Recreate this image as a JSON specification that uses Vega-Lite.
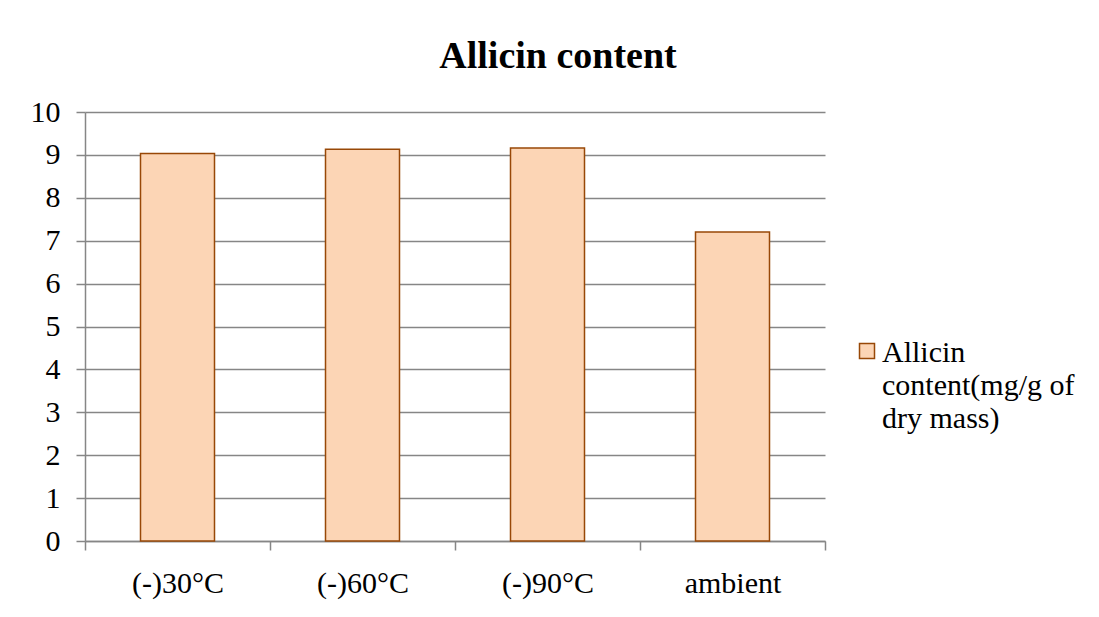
{
  "$schema": "https://vega.github.io/schema/vega-lite/v6.json",
  "width": 740,
  "height": 429,
  "autosize": {"type": "none"},
  "padding": {"left": 85, "top": 112, "right": 274, "bottom": 76},
  "background": "white",
  "title": {
    "text": "Allicin content",
    "font": "Liberation Serif",
    "fontSize": 38,
    "fontWeight": "bold",
    "color": "#000000",
    "anchor": "middle",
    "dx": 103,
    "offset": 21
  },
  "data": {
    "values": [
      {"temp": "(-)30°C", "value": 9.03, "series": "Allicin content(mg/g of dry mass)"},
      {"temp": "(-)60°C", "value": 9.13, "series": "Allicin content(mg/g of dry mass)"},
      {"temp": "(-)90°C", "value": 9.16, "series": "Allicin content(mg/g of dry mass)"},
      {"temp": "ambient", "value": 7.2, "series": "Allicin content(mg/g of dry mass)"}
    ]
  },
  "mark": {"type": "bar", "stroke": "#984807", "strokeWidth": 1.5, "width": {"band": 0.4}},
  "encoding": {
    "x": {
      "field": "temp",
      "type": "nominal",
      "sort": null,
      "title": null,
      "scale": {"paddingInner": 0, "paddingOuter": 0},
      "axis": {
        "labelAngle": 0,
        "labelFont": "Liberation Serif",
        "labelFontSize": 30,
        "labelColor": "#000000",
        "labelPadding": 18,
        "domainColor": "#868686",
        "domainWidth": 1.5,
        "tickColor": "#868686",
        "tickWidth": 1.5,
        "tickSize": 9,
        "tickBand": "extent"
      }
    },
    "y": {
      "field": "value",
      "type": "quantitative",
      "title": null,
      "scale": {"domain": [0, 10], "nice": false},
      "axis": {
        "values": [0, 1, 2, 3, 4, 5, 6, 7, 8, 9, 10],
        "labelFont": "Liberation Serif",
        "labelFontSize": 30,
        "labelColor": "#000000",
        "labelPadding": 16,
        "domainColor": "#868686",
        "domainWidth": 1.5,
        "tickColor": "#868686",
        "tickWidth": 1.5,
        "tickSize": 9,
        "grid": true,
        "gridColor": "#868686",
        "gridWidth": 1.5
      }
    },
    "color": {
      "field": "series",
      "type": "nominal",
      "title": null,
      "scale": {"range": ["#FCD5B5"]},
      "legend": {
        "orient": "none",
        "legendX": 767,
        "legendY": 224,
        "symbolType": "square",
        "symbolSize": 225,
        "symbolStrokeColor": "#984807",
        "symbolStrokeWidth": 1.5,
        "labelFont": "Liberation Serif",
        "labelFontSize": 30,
        "labelColor": "#000000",
        "labelLimit": 300,
        "labelBaseline": "alphabetic",
        "labelOffset": 0,
        "labelExpr": "['Allicin', 'content(mg/g of', 'dry mass)']",
        "padding": 0,
        "encode": {
          "labels": {
            "update": {
              "lineHeight": {"value": 33},
              "dy": {"value": 11}
            }
          }
        }
      }
    }
  },
  "config": {
    "font": "Liberation Serif",
    "view": {"stroke": null},
    "legend": {"labelFont": "Liberation Serif"}
  }
}
